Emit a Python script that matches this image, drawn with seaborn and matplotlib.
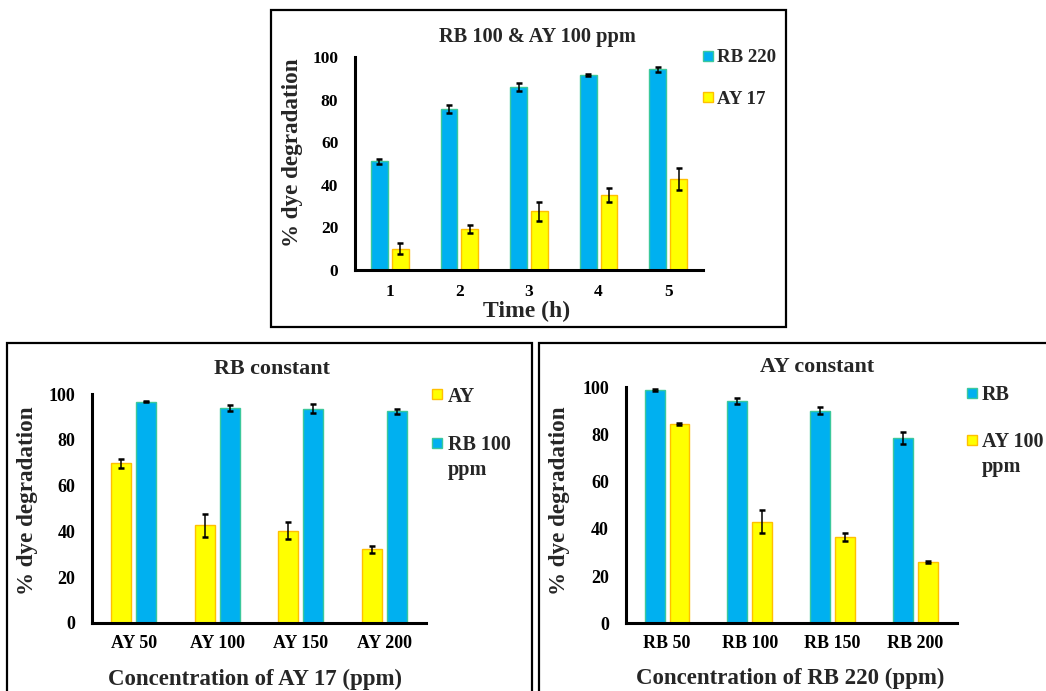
import matplotlib
matplotlib.use("Agg")
import matplotlib.pyplot as plt
from matplotlib.patches import Rectangle
import pandas as pd
import seaborn as sns

# Time series: RB 100 & AY 100 ppm mixture
time_h = ["1", "2", "3", "4", "5"]
rb220_time = [51.0, 75.7, 86.0, 91.7, 94.3]
rb220_time_err = [1.3, 1.7, 2.0, 0.5, 1.3]
ay17_time = [9.9, 19.0, 27.5, 35.0, 42.8]
ay17_time_err = [2.7, 1.9, 4.6, 3.3, 5.3]

# RB held constant (100 ppm), AY 17 concentration varied
ay_conc = ["AY 50", "AY 100", "AY 150", "AY 200"]
ay_var = [69.8, 42.7, 40.3, 32.1]
ay_var_err = [2.0, 5.0, 3.7, 1.5]
rb_const = [96.7, 94.1, 93.7, 92.5]
rb_const_err = [0.3, 1.3, 1.8, 1.0]

# AY held constant (100 ppm), RB 220 concentration varied
rb_conc = ["RB 50", "RB 100", "RB 150", "RB 200"]
rb_var = [98.9, 94.3, 90.1, 78.4]
rb_var_err = [0.3, 1.3, 1.5, 2.5]
ay_const = [84.3, 43.0, 36.7, 25.8]
ay_const_err = [0.4, 4.8, 1.7, 0.4]

BLUE, BLUE_EDGE = "#00B0F0", "#3CC89C"
YELLOW, YELLOW_EDGE = "#FFFF00", "#FFC000"

sns.set_style("white")
plt.rcParams["font.family"] = ["Liberation Serif", "DejaVu Serif"]
plt.rcParams["font.weight"] = "bold"
plt.rcParams["axes.labelweight"] = "bold"
plt.rcParams["axes.titleweight"] = "bold"

W, H = 1046, 691
fig = plt.figure(figsize=(W / 100, H / 100), dpi=100)
fig.patch.set_facecolor("white")


def fx(px):
    return px / W


def fy(py):
    return 1 - py / H


def add_axes(left, right, top, bottom):
    return fig.add_axes([fx(left), fy(bottom), fx(right) - fx(left), (bottom - top) / H])


def draw_panel(ax, cats, series, title, title_xy, xlabel, xlabel_xy, ylabel_xy,
               tick_fs, xtick_pad, title_fs, xlabel_fs):
    frames = [pd.DataFrame({"cat": cats, "val": vals, "series": name})
              for name, vals, _, _, _ in series]
    df = pd.concat(frames, ignore_index=True)
    names = [s[0] for s in series]
    palette = {s[0]: s[3] for s in series}
    sns.barplot(data=df, x="cat", y="val", hue="series", order=cats,
                hue_order=names, palette=palette, saturation=1,
                width=0.6, gap=0.2, errorbar=None, linewidth=1.0,
                legend=False, ax=ax)
    for container, (name, vals, errs, face, edge) in zip(ax.containers, series):
        xs, ys = [], []
        for bar in container:
            bar.set_edgecolor(edge)
            xs.append(bar.get_x() + bar.get_width() / 2)
            ys.append(bar.get_height())
        ax.errorbar(xs, ys, yerr=errs, fmt="none", ecolor="black",
                    elinewidth=1.1, capsize=2.4, capthick=1.8, zorder=5)

    ax.set_ylim(0, 100)
    ax.set_yticks(range(0, 101, 20))
    ax.set_xlim(-0.5, len(cats) - 0.5)
    for side in ("top", "right"):
        ax.spines[side].set_visible(False)
    for side in ("left", "bottom"):
        ax.spines[side].set_linewidth(2.2)
        ax.spines[side].set_color("black")
    ax.tick_params(axis="both", length=0, labelsize=tick_fs, colors="black")
    ax.tick_params(axis="y", pad=12)
    ax.tick_params(axis="x", pad=xtick_pad)
    for lab in ax.get_xticklabels() + ax.get_yticklabels():
        lab.set_fontweight("bold")

    ax.set_title(title, fontsize=title_fs, fontweight="bold",
                 x=title_xy[0], y=title_xy[1], va="center", pad=0)
    ax.set_xlabel(xlabel, fontsize=xlabel_fs, fontweight="bold")
    ax.xaxis.set_label_coords(*xlabel_xy)
    ax.set_ylabel("% dye degradation", fontsize=16.7, fontweight="bold")
    ax.yaxis.set_label_coords(*ylabel_xy)


def draw_key(entries, sq_left, text_left, centers, fs):
    # entries: (label, face, edge); centers: y pixel of the first text line
    for (label, face, edge), cy in zip(entries, centers):
        fig.add_artist(Rectangle((fx(sq_left), fy(cy + 5)), fx(10), 10 / H,
                                 transform=fig.transFigure, facecolor=face,
                                 edgecolor=edge, linewidth=1.0))
        if "\n" in label:
            fig.text(fx(text_left), fy(cy - 8), label, fontsize=fs,
                     fontweight="bold", ha="left", va="top", linespacing=1.35)
        else:
            fig.text(fx(text_left), fy(cy), label, fontsize=fs,
                     fontweight="bold", ha="left", va="center_baseline")


# Top panel
ax_top = add_axes(355, 703, 57.3, 269.7)
draw_panel(ax_top, time_h,
           [("RB 220", rb220_time, rb220_time_err, BLUE, BLUE_EDGE),
            ("AY 17", ay17_time, ay17_time_err, YELLOW, YELLOW_EDGE)],
           "RB 100 & AY 100 ppm", (0.523, 1.096),
           "Time (h)", (0.494, -0.147), (-0.149, 0.549),
           12.5, 10, 14.7, 17)
draw_key([("RB 220", BLUE, BLUE_EDGE), ("AY 17", YELLOW, YELLOW_EDGE)],
         703, 717, [56, 97], 13.6)

# Bottom-left panel
ax_bl = add_axes(92, 426, 394.2, 622.7)
draw_panel(ax_bl, ay_conc,
           [("AY", ay_var, ay_var_err, YELLOW, YELLOW_EDGE),
            ("RB 100 ppm", rb_const, rb_const_err, BLUE, BLUE_EDGE)],
           "RB constant", (0.539, 1.110),
           "Concentration of AY 17 (ppm)", (0.488, -0.20), (-0.161, 0.533),
           13, 8.6, 15.8, 16.5)
draw_key([("AY", YELLOW, YELLOW_EDGE), ("RB 100\nppm", BLUE, BLUE_EDGE)],
         432, 448, [394, 443], 14.5)

# Bottom-right panel
ax_br = add_axes(625.7, 956.7, 387.3, 623.3)
draw_panel(ax_br, rb_conc,
           [("RB", rb_var, rb_var_err, BLUE, BLUE_EDGE),
            ("AY 100 ppm", ay_const, ay_const_err, YELLOW, YELLOW_EDGE)],
           "AY constant", (0.578, 1.086),
           "Concentration of RB 220 (ppm)", (0.496, -0.19), (-0.168, 0.519),
           13, 8.6, 15.8, 16.5)
draw_key([("RB", BLUE, BLUE_EDGE), ("AY 100\nppm", YELLOW, YELLOW_EDGE)],
         967, 982, [393, 440], 14.5)

# Panel frames
for (l, t, r, b) in [(271, 10, 785.7, 327.3), (7, 342.7, 531.7, 700),
                     (539.3, 342.7, 1060, 700)]:
    fig.add_artist(Rectangle((fx(l), fy(b)), fx(r) - fx(l), (b - t) / H,
                             transform=fig.transFigure, fill=False,
                             edgecolor="black", linewidth=1.6, clip_on=False))

fig.savefig("out.png", dpi=100, facecolor="white")
